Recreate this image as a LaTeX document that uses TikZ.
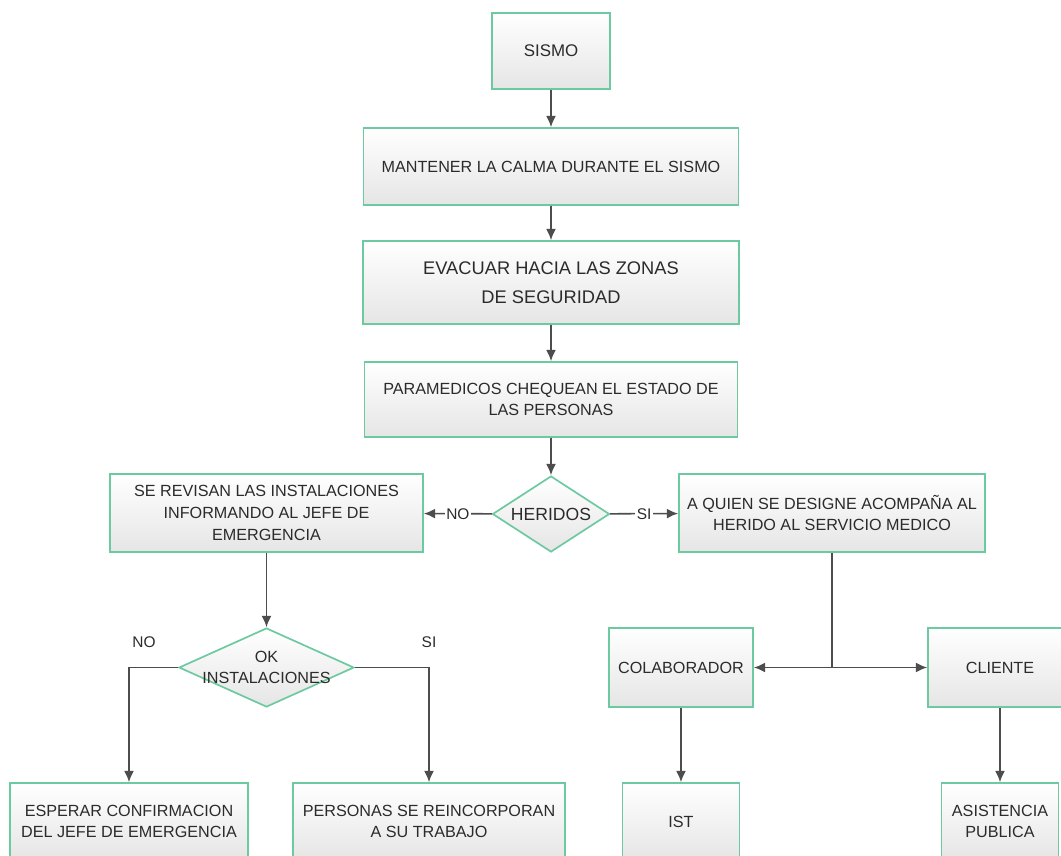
\documentclass[tikz,border=0pt]{standalone}
\usepackage{fontspec}
\setmainfont{Liberation Sans}
\usepackage{xcolor}
\usepackage{tikz}
\usetikzlibrary{shapes.geometric, arrows.meta}

\definecolor{boxgreen}{HTML}{6CC9A0}
\definecolor{linegray}{HTML}{4D4D4D}
\definecolor{txtgray}{HTML}{2B2B2B}

\tikzset{
  block/.style={draw=boxgreen, line width=1.2pt, top color=white, bottom color=black!10,
    text=txtgray, align=center, inner sep=2pt, font=\fontsize{11.5}{15.5}\selectfont},
  decision/.style={block, diamond, aspect=1.6, inner sep=0pt},
  conn/.style={draw=linegray, line width=1.1pt, -{Latex[length=8pt, width=7pt]}},
  tag/.style={fill=white, text=txtgray, inner sep=1pt, font=\fontsize{11}{13}\selectfont},
}

\begin{document}
\begin{tikzpicture}
            \useasboundingbox (0, 0) rectangle (26.525, -21.375);
            \clip (0, 0) rectangle (26.525, -21.375);
            \fill[white] (0, 0) rectangle (26.525, -21.375);
            \node[block, minimum width=2.95cm, minimum height=1.9cm, font=\fontsize{12}{15}\selectfont] (sismo) at (13.775, -1.275) {SISMO};
            \node[block, minimum width=9.375cm, minimum height=1.925cm] (calma) at (13.775, -4.1625) {MANTENER LA CALMA DURANTE EL SISMO};
            \node[block, minimum width=9.4cm, minimum height=2.075cm, font=\fontsize{13}{21}\selectfont] (evacuar) at (13.775, -7.0625) {EVACUAR HACIA LAS ZONAS\\DE SEGURIDAD};
            \node[block, minimum width=9.325cm, minimum height=1.875cm] (chequeo) at (13.775, -9.9875) {PARAMEDICOS CHEQUEAN EL ESTADO DE\\LAS PERSONAS};
            \node[decision, minimum width=2.925cm, minimum height=1.9cm, font=\fontsize{12.5}{15}\selectfont] (heridos) at (13.775, -12.85) {HERIDOS};
            \node[block, minimum width=7.825cm, minimum height=1.95cm] (revisan) at (6.6625, -12.825) {SE REVISAN LAS INSTALACIONES\\INFORMANDO AL JEFE DE\\EMERGENCIA};
            \node[block, minimum width=7.65cm, minimum height=1.95cm] (acompana) at (20.8, -12.825) {A QUIEN SE DESIGNE ACOMPAÑA AL\\HERIDO AL SERVICIO MEDICO};
            \node[decision, minimum width=4.375cm, minimum height=1.975cm,
                  label={[text=txtgray, align=center, font=\fontsize{11.5}{14.5}\selectfont]center:OK\\INSTALACIONES}] (okinst) at (6.6625, -16.6875) {};
            \node[block, minimum width=3.6cm, minimum height=1.975cm] (colab) at (17.025, -16.6875) {COLABORADOR};
            \node[block, minimum width=3.6cm, minimum height=1.975cm] (cliente) at (25, -16.6875) {CLIENTE};
            \node[block, minimum width=5.95cm, minimum height=1.925cm] (esperar) at (3.225, -20.5375) {ESPERAR CONFIRMACION\\DEL JEFE DE EMERGENCIA};
            \node[block, minimum width=6.8cm, minimum height=1.925cm] (reincorp) at (10.725, -20.5375) {PERSONAS SE REINCORPORAN\\A SU TRABAJO};
            \node[block, minimum width=2.925cm, minimum height=1.925cm] (ist) at (17.025, -20.5375) {IST};
            \node[block, minimum width=2.925cm, minimum height=1.925cm] (asist) at (25, -20.5375) {ASISTENCIA\\PUBLICA};
            \coordinate (split) at (acompana.south |- colab.east);

            \draw[conn] (sismo) -- (calma);
            \draw[conn] (calma) -- (evacuar);
            \draw[conn] (evacuar) -- (chequeo);
            \draw[conn] (chequeo) -- (heridos);
            \draw[conn] (heridos) -- node[tag] {NO} (revisan);
            \draw[conn] (heridos) -- node[tag] {SI} (acompana);
            \draw[conn] (revisan) -- (okinst);
            \draw[conn] (okinst.west) -| node[pos=0.5, above=0.45cm, xshift=0.375cm, tag, fill=none] {NO} (esperar.north);
            \draw[conn] (okinst.east) -| node[pos=0.5, above=0.45cm, tag, fill=none] {SI} (reincorp.north);
            \draw[draw=linegray, line width=1.1pt] (acompana.south) -- (split);
            \draw[conn] (split) -- (colab.east);
            \draw[conn] (split) -- (cliente.west);
            \draw[conn] (colab) -- (ist);
            \draw[conn] (cliente.south) -- (asist.north);
          \end{tikzpicture}
\end{document}
